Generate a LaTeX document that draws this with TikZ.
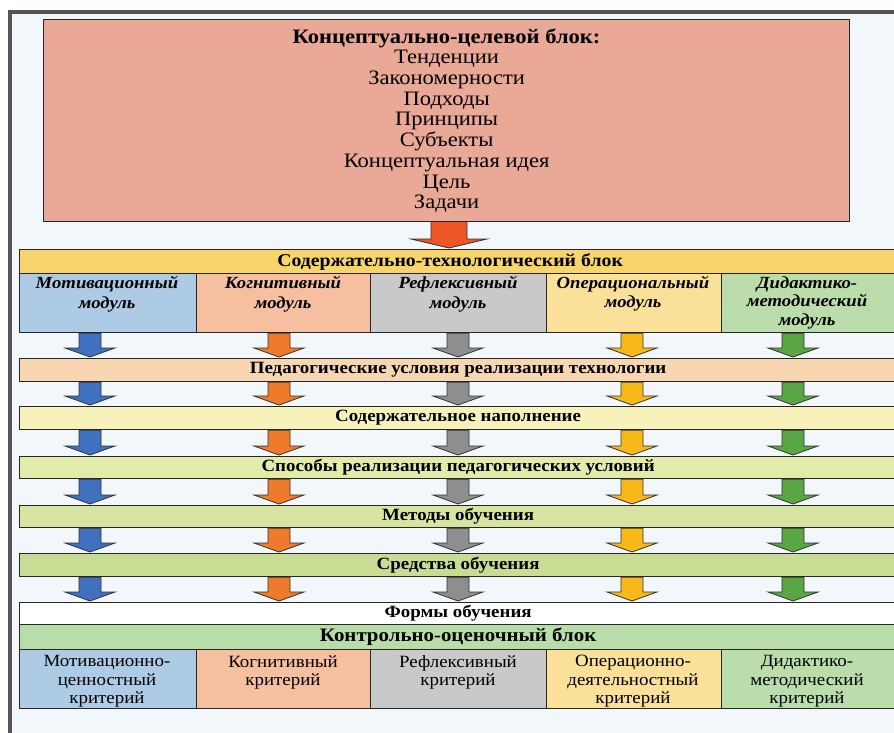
\documentclass[tikz,border=0pt]{standalone}
\usepackage{fontspec}
\setmainfont{Liberation Serif}
\newfontfamily\widefont{Liberation Serif}[FakeStretch=1.1]
\usetikzlibrary{calc}
\definecolor{bgin}{HTML}{F1F7FA}
\definecolor{framec}{HTML}{555555}
\definecolor{cbfill}{HTML}{E9A996}
\definecolor{redarr}{HTML}{EE5526}
\definecolor{hdrfill}{HTML}{F8D46C}
\definecolor{cblue}{HTML}{AECBE6}
\definecolor{cpeach}{HTML}{F5BFA0}
\definecolor{cgray}{HTML}{C9C9C9}
\definecolor{cyel}{HTML}{FBE09A}
\definecolor{cgreen}{HTML}{BBDCAB}
\definecolor{rowa}{HTML}{F8D6B2}
\definecolor{rowb}{HTML}{F6F2BA}
\definecolor{rowc}{HTML}{E3EBAA}
\definecolor{rowd}{HTML}{D7E5A0}
\definecolor{rowe}{HTML}{C8DD93}
\definecolor{ctrl}{HTML}{B8DDA8}
\definecolor{ablue}{HTML}{4070C0}
\definecolor{aorange}{HTML}{F07A2C}
\definecolor{agray}{HTML}{8E8E8E}
\definecolor{ayel}{HTML}{F8B81A}
\definecolor{agreen}{HTML}{5AA544}
\tikzset{
  boxx/.style={draw=black!85, line width=1.2pt, inner sep=0pt, anchor=north west, align=center},
  arrowline/.style={draw=black!80, line width=0.8pt, line join=miter},
  rowfont/.style={font=\widefont\fontsize{17.2}{19}\selectfont\bfseries},
  hdrfont/.style={font=\widefont\fontsize{18}{20}\selectfont\bfseries},
  ctrlfont/.style={font=\widefont\fontsize{19}{20}\selectfont\bfseries},
  modfont/.style={font=\widefont\fontsize{17}{20}\selectfont\bfseries\itshape},
  critfont/.style={font=\widefont\fontsize{17.2}{18.5}\selectfont},
}
\newcommand\blockarrow[4]{%
  \draw[arrowline, fill=#1] let \p1=(#3.south), \p2=(#4.north), \p3=(#2,0) in
    (\x3-11pt,\y1) -- (\x3-11pt,\y2+10pt) -- (\x3-25pt,\y2+10pt) -- (\x3,\y2+1pt)
    -- (\x3+25pt,\y2+10pt) -- (\x3+11pt,\y2+10pt) -- (\x3+11pt,\y1) -- cycle;}
\newcommand\arrowrow[2]{%
  \blockarrow{ablue}{90}{#1}{#2}
  \blockarrow{aorange}{279}{#1}{#2}
  \blockarrow{agray}{458}{#1}{#2}
  \blockarrow{ayel}{632}{#1}{#2}
  \blockarrow{agreen}{793}{#1}{#2}}
\begin{document}
\begin{tikzpicture}[x=1pt,y=-1pt]
\useasboundingbox (0,0) rectangle (894,733);
\fill[white] (0,0) rectangle (894,733);
\fill[bgin] (10,12) rectangle (900,740);
\draw[draw=framec, line width=3.5pt] (10,740) -- (10,12) -- (900,12);
% top block
\node[boxx, fill=cbfill, minimum width=806, minimum height=202,
  font=\widefont\fontsize{20.5}{20.7}\selectfont] (cb) at (43,19)
  {\textbf{Концептуально-целевой блок:}\\Тенденции\\Закономерности\\Подходы\\Принципы\\Субъекты\\Концептуальная идея\\Цель\\Задачи};
% header
\node[boxx, fill=hdrfill, minimum width=877, minimum height=24, hdrfont] (hdr) at (19,249) {\hspace*{-16pt}Содержательно-технологический блок};
% modules
\node[boxx, fill=cblue, minimum width=177, minimum height=59] (m1) at (19,273) {};
\node[boxx, fill=cpeach, minimum width=174, minimum height=59] (m2) at (196,273) {};
\node[boxx, fill=cgray, minimum width=176, minimum height=59] (m3) at (370,273) {};
\node[boxx, fill=cyel, minimum width=175, minimum height=59] (m4) at (546,273) {};
\node[boxx, fill=cgreen, minimum width=180, minimum height=59] (m5) at (721,273) {};
\node[modfont, anchor=north, align=center] (t1) at (107,273) {Мотивационный\\модуль};
\node[modfont, anchor=north, align=center] (t2) at (283,273) {Когнитивный\\модуль};
\node[modfont, anchor=north, align=center] (t3) at (458,273) {Рефлексивный\\модуль};
\node[modfont, anchor=north, align=center, font=\widefont\fontsize{17}{18.5}\selectfont\bfseries\itshape] (t4) at (633,273) {Операциональный\\модуль};
\node[modfont, anchor=north, align=center, font=\widefont\fontsize{17}{18.5}\selectfont\bfseries\itshape] (t5) at (807,273) {Дидактико-\\методический\\модуль};
% rows
\node[boxx, fill=rowa, minimum width=877, minimum height=23, rowfont] (r1) at (19,358) {Педагогические условия реализации технологии};
\node[boxx, fill=rowb, minimum width=877, minimum height=23, rowfont] (r2) at (19,406) {Содержательное наполнение};
\node[boxx, fill=rowc, minimum width=877, minimum height=22, rowfont] (r3) at (19,456) {Способы реализации педагогических условий};
\node[boxx, fill=rowd, minimum width=877, minimum height=22, rowfont] (r4) at (19,505) {Методы обучения};
\node[boxx, fill=rowe, minimum width=877, minimum height=23, rowfont] (r5) at (19,553) {Средства обучения};
\node[boxx, fill=white, minimum width=877, minimum height=22, rowfont] (r6) at (19,602) {Формы обучения};
\node[boxx, fill=ctrl, minimum width=877, minimum height=25, ctrlfont] (r7) at (19,624) {Контрольно-оценочный блок};
% criteria
\node[boxx, fill=cblue, minimum width=177, minimum height=59] (k1) at (19,649) {};
\node[boxx, fill=cpeach, minimum width=174, minimum height=59] (k2) at (196,649) {};
\node[boxx, fill=cgray, minimum width=176, minimum height=59] (k3) at (370,649) {};
\node[boxx, fill=cyel, minimum width=175, minimum height=59] (k4) at (546,649) {};
\node[boxx, fill=cgreen, minimum width=180, minimum height=59] (k5) at (721,649) {};
\node[critfont, anchor=north, align=center] (c1) at (107,652) {Мотивационно-\\ценностный\\критерий};
\node[critfont, anchor=north, align=center] (c2) at (283,652) {Когнитивный\\критерий};
\node[critfont, anchor=north, align=center] (c3) at (458,652) {Рефлексивный\\критерий};
\node[critfont, anchor=north, align=center] (c4) at (633,652) {Операционно-\\деятельностный\\критерий};
\node[critfont, anchor=north, align=center] (c5) at (807,652) {Дидактико-\\методический\\критерий};
% red arrow
\draw[arrowline, fill=redarr] let \p1=(cb.south), \p2=(hdr.north), \p3=(449,0) in
  (\x3-18pt,\y1) -- (\x3-18pt,\y2+10pt) -- (\x3-38pt,\y2+10pt) -- (\x3,\y2+1pt)
  -- (\x3+38pt,\y2+10pt) -- (\x3+18pt,\y2+10pt) -- (\x3+18pt,\y1);
% module arrows
\arrowrow{m1}{r1}
\arrowrow{r1}{r2}
\arrowrow{r2}{r3}
\arrowrow{r3}{r4}
\arrowrow{r4}{r5}
\arrowrow{r5}{r6}
\end{tikzpicture}
\end{document}
